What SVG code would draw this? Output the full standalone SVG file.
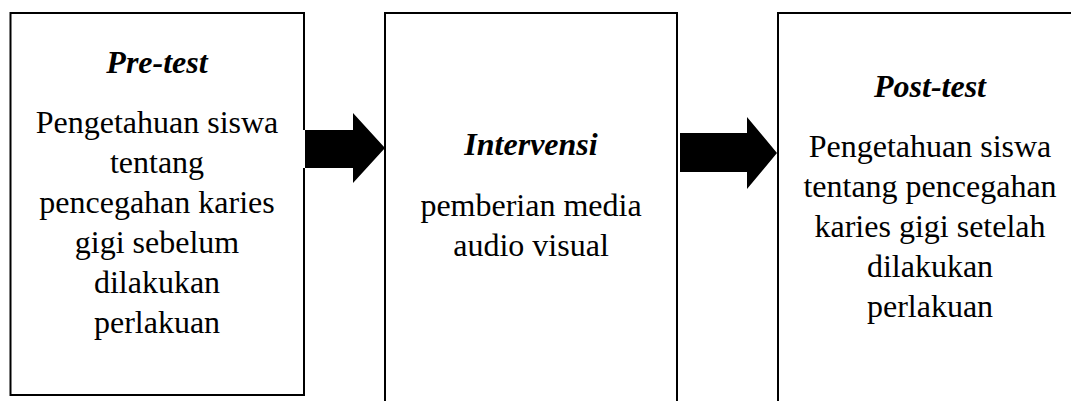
<svg xmlns="http://www.w3.org/2000/svg" width="1071" height="401" viewBox="0 0 1071 401">
  <style>
    .box { fill: #ffffff; stroke: #000000; stroke-width: 2; }
    .title { font-family: "Liberation Serif", "Times New Roman", serif; font-size: 32px; font-weight: bold; font-style: italic; fill: #000000; text-anchor: middle; }
    .body { font-family: "Liberation Serif", "Times New Roman", serif; font-size: 32px; fill: #000000; text-anchor: middle; }
    .arrow { fill: #000000; }
  </style>
  <defs>
    <filter id="soft" x="-10%" y="-10%" width="120%" height="120%">
      <feGaussianBlur stdDeviation="0.6"/>
    </filter>
  </defs>
  <rect width="1071" height="401" fill="#ffffff"/>

  <!-- Stage 1: pre-test -->
  <g id="pretest">
    <rect class="box" x="10.5" y="13" width="293.5" height="382"/>
    <text class="title" x="157" y="73">Pre-test</text>
    <text class="body" x="157" y="133">Pengetahuan siswa</text>
    <text class="body" x="157" y="173">tentang</text>
    <text class="body" x="157" y="213">pencegahan karies</text>
    <text class="body" x="157" y="253">gigi sebelum</text>
    <text class="body" x="157" y="293">dilakukan</text>
    <text class="body" x="157" y="333">perlakuan</text>
  </g>

  <!-- Stage 2: intervention -->
  <g id="intervensi">
    <rect class="box" x="385" y="13" width="292" height="400"/>
    <text class="title" x="531" y="155">Intervensi</text>
    <text class="body" x="531" y="216">pemberian media</text>
    <text class="body" x="531" y="256">audio visual</text>
  </g>

  <!-- Stage 3: post-test -->
  <g id="posttest">
    <rect class="box" x="778" y="13" width="400" height="400"/>
    <text class="title" x="930" y="97">Post-test</text>
    <text class="body" x="930" y="157">Pengetahuan siswa</text>
    <text class="body" x="930" y="197">tentang pencegahan</text>
    <text class="body" x="930" y="237">karies gigi setelah</text>
    <text class="body" x="930" y="277">dilakukan</text>
    <text class="body" x="930" y="317">perlakuan</text>
  </g>

  <!-- Block arrows between stages -->
  <g id="connectors">
    <rect x="303" y="130" width="2.5" height="38" fill="#ffffff"/>
    <path class="arrow" d="M305,130 H353 V113 L385,148 L353,183 V168 H305 Z"/>
    <path class="arrow" filter="url(#soft)" d="M680,133 H747 V117 L777,153 L747,189 V172 H680 Z"/>
  </g>
</svg>
